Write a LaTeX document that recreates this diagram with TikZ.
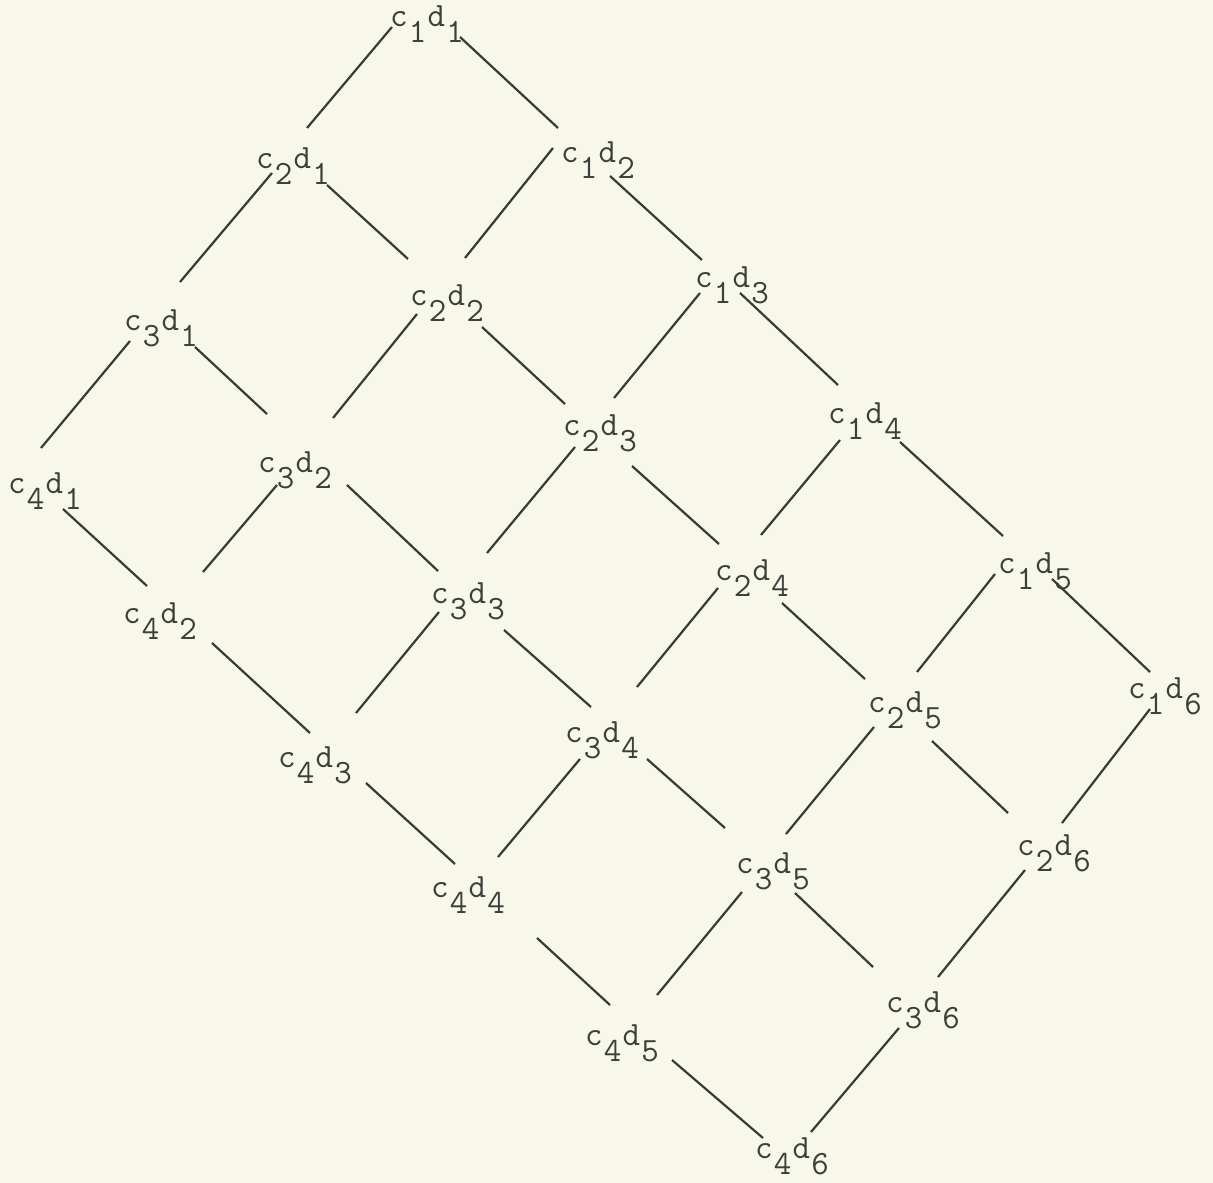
\documentclass[tikz,border=0pt]{standalone}
\usepackage{fontspec}
\usetikzlibrary{calc}
\definecolor{paper}{RGB}{247,248,234}
\definecolor{ink}{RGB}{58,58,54}
\definecolor{txt}{RGB}{62,62,58}
\newcommand\cdlab[2]{c\kern1.2pt\raisebox{-16pt}{#1}\kern1.2pt d\kern1.2pt\raisebox{-16pt}{#2}}
\newcommand\conn[6]{\draw ($(#1.base west)+(#2+2,#3)$) -- ($(#4.base west)+(#5+2,#6)$);}
\begin{document}
\begin{tikzpicture}[x=1pt,y=-1pt,
  lbl/.style={anchor=base west,inner sep=0pt,text=txt,font=\ttfamily\addfontfeatures{FakeBold=1.2}\fontsize{34pt}{36pt}\selectfont}]
\fill[paper] (0,0) rectangle (1213,1183);
\useasboundingbox (0,0) rectangle (1213,1183);
% labels
\node[lbl] (c1d1) at (390,27) {\cdlab{1}{1}};
\node[lbl] (c1d2) at (561,162) {\cdlab{1}{2}};
\node[lbl] (c1d3) at (695,287) {\cdlab{1}{3}};
\node[lbl] (c1d4) at (828,423) {\cdlab{1}{4}};
\node[lbl] (c1d5) at (998,573) {\cdlab{1}{5}};
\node[lbl] (c1d6) at (1128,698) {\cdlab{1}{6}};
\node[lbl] (c2d1) at (256,168) {\cdlab{2}{1}};
\node[lbl] (c2d2) at (410,305) {\cdlab{2}{2}};
\node[lbl] (c2d3) at (563,435) {\cdlab{2}{3}};
\node[lbl] (c2d4) at (715,580) {\cdlab{2}{4}};
\node[lbl] (c2d5) at (868,712) {\cdlab{2}{5}};
\node[lbl] (c2d6) at (1017,855) {\cdlab{2}{6}};
\node[lbl] (c3d1) at (124,330) {\cdlab{3}{1}};
\node[lbl] (c3d2) at (258,472) {\cdlab{3}{2}};
\node[lbl] (c3d3) at (431,603) {\cdlab{3}{3}};
\node[lbl] (c3d4) at (565,742) {\cdlab{3}{4}};
\node[lbl] (c3d5) at (736,873) {\cdlab{3}{5}};
\node[lbl] (c3d6) at (886,1012) {\cdlab{3}{6}};
\node[lbl] (c4d1) at (8,493) {\cdlab{4}{1}};
\node[lbl] (c4d2) at (123,623) {\cdlab{4}{2}};
\node[lbl] (c4d3) at (278,767) {\cdlab{4}{3}};
\node[lbl] (c4d4) at (431,897) {\cdlab{4}{4}};
\node[lbl] (c4d5) at (585,1045) {\cdlab{4}{5}};
\node[lbl] (c4d6) at (755,1158) {\cdlab{4}{6}};
\begin{scope}[draw=ink,line width=2.2pt]
% c-direction (down-left)
\conn{c1d1}{0}{0}{c2d1}{49}{-40}
\conn{c2d1}{14}{5}{c3d1}{54}{-48}
\conn{c3d1}{4}{11}{c4d1}{31}{-45}
\conn{c1d2}{-10}{-14}{c2d2}{53}{-47}
\conn{c2d2}{5}{9}{c3d2}{73}{-54}
\conn{c3d2}{17}{13}{c4d2}{78}{-51}
\conn{c1d3}{3}{6}{c2d3}{49}{-37}
\conn{c2d3}{10}{12}{c3d3}{54}{-50}
\conn{c3d3}{6}{9}{c4d3}{76}{-54}
\conn{c1d4}{10}{17}{c2d4}{44}{-45}
\conn{c2d4}{1}{8}{c3d4}{70}{-55}
\conn{c3d4}{13}{17}{c4d4}{65}{-40}
\conn{c1d5}{-5}{1}{c2d5}{47}{-40}
\conn{c2d5}{4}{15}{c3d5}{48}{-39}
\conn{c3d5}{4}{19}{c4d5}{70}{-50}
\conn{c1d6}{20}{11}{c2d6}{43}{-32}
\conn{c2d6}{6}{15}{c3d6}{50}{-35}
\conn{c3d6}{11}{16}{c4d6}{54}{-26}
% d-direction (down-right)
\conn{c1d1}{68}{10}{c1d2}{-5}{-34}
\conn{c1d2}{47}{14}{c1d3}{5}{-27}
\conn{c1d3}{43}{6}{c1d4}{8}{-38}
\conn{c1d4}{70}{19}{c1d5}{3}{-37}
\conn{c1d5}{52}{6}{c1d6}{20}{-26}
\conn{c2d1}{69}{17}{c2d2}{-4}{-46}
\conn{c2d2}{70}{22}{c2d3}{0}{-31}
\conn{c2d3}{67}{31}{c2d4}{2}{-36}
\conn{c2d4}{65}{23}{c2d5}{-5}{-33}
\conn{c2d5}{62}{29}{c2d6}{-11}{-42}
\conn{c3d1}{69}{17}{c3d2}{7}{-58}
\conn{c3d2}{87}{13}{c3d3}{5}{-32}
\conn{c3d3}{71}{27}{c3d4}{24}{-35}
\conn{c3d4}{80}{17}{c3d5}{-13}{-45}
\conn{c3d5}{57}{20}{c3d6}{-15}{-45}
\conn{c4d1}{53}{16}{c4d2}{22}{-37}
\conn{c4d2}{87}{20}{c4d3}{30}{-34}
\conn{c4d3}{86}{16}{c4d4}{22}{-33}
\conn{c4d4}{104}{41}{c4d5}{23}{-40}
\conn{c4d5}{85}{15}{c4d6}{6}{-20}
\end{scope}
\end{tikzpicture}
\end{document}
